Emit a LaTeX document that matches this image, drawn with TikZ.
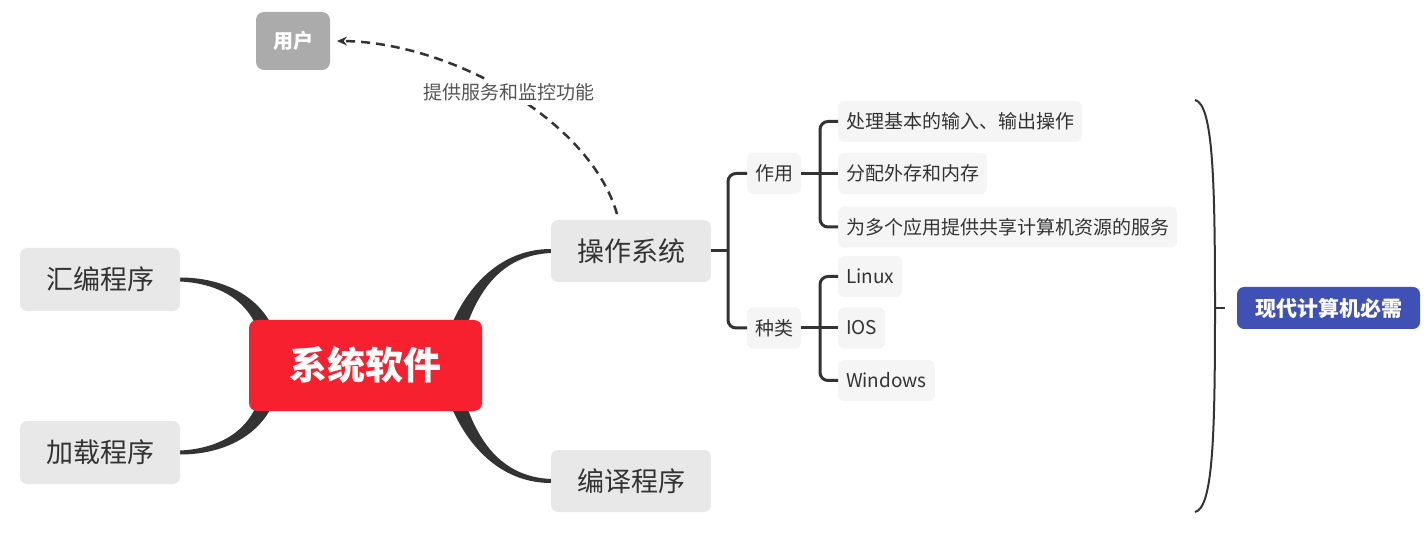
\documentclass[tikz,border=0pt]{standalone}
\usepackage{fontspec}
\setmainfont{Noto Sans CJK SC}
\usetikzlibrary{arrows.meta,calc,backgrounds}
\definecolor{ink}{HTML}{333333}
\definecolor{boxgray}{HTML}{E8E8E8}
\definecolor{leafgray}{HTML}{F5F5F5}
\definecolor{cenred}{HTML}{F7202F}
\definecolor{usergray}{HTML}{ABABAB}
\definecolor{needblue}{HTML}{3F51B5}
\definecolor{labelgray}{HTML}{555555}
\begin{document}
\begin{tikzpicture}[x=1pt,y=-1pt,
  every node/.style={inner sep=0pt, outer sep=0pt},
  mainbox/.style={fill=boxgray, rounded corners=7pt, minimum width=160pt, minimum height=62pt, text=ink, font=\fontsize{27}{31}\selectfont},
  subbox/.style={fill=leafgray, rounded corners=6pt, minimum width=54pt, minimum height=41pt, text=ink, font=\fontsize{19}{22}\selectfont},
  leafbox/.style={fill=leafgray, rounded corners=6pt, minimum height=41pt, inner xsep=8pt, text=ink, font=\fontsize{19}{22}\selectfont, anchor=west},
  conn/.style={draw=ink, line width=3pt, rounded corners=8pt},
  branch/.style={fill=ink},
  dasharrow/.style={draw=ink, line width=2.5pt, dash pattern=on 9pt off 6pt, -{Stealth[length=10pt,width=9pt]}},
  bracket/.style={draw=ink, line width=2pt},
]
\useasboundingbox (0,0) rectangle (1425,545);

% nodes
\node[fill=usergray, rounded corners=8pt, minimum width=74pt, minimum height=58pt, text=white, font=\fontsize{20}{23}\selectfont\bfseries] (user) at (293,41) {用户};
\node[fill=cenred, rounded corners=8pt, minimum width=233pt, minimum height=91pt, text=white, font=\fontsize{38}{44}\selectfont\bfseries] (cen) at (365.5,365.5) {系统软件};
\node[mainbox, minimum height=63pt] (asm) at (100,279.5) {汇编程序};
\node[mainbox, minimum height=63pt] (load) at (100,452.5) {加载程序};
\node[mainbox] (os) at (631,251) {操作系统};
\node[mainbox] (comp) at (631,481) {编译程序};
\node[subbox] (zy) at (774,173.5) {作用};
\node[subbox] (zl) at (774,328) {种类};
\node[leafbox] (l1) at (838,121.5) {处理基本的输入、输出操作};
\node[leafbox] (l2) at (838,173.5) {分配外存和内存};
\node[leafbox] (l3) at (838,227) {为多个应用提供共享计算机资源的服务};
\node[leafbox] (k1) at (838,276.5) {Linux};
\node[leafbox] (k2) at (838,328) {IOS};
\node[leafbox] (k3) at (838,380.5) {Windows};
\node[fill=needblue, rounded corners=7pt, minimum width=183pt, minimum height=42pt, text=white, font=\fontsize{21}{24}\selectfont\bfseries] (need) at (1328.5,308) {现代计算机必需};

% tapered branches behind nodes
\begin{scope}[on background layer]
\fill[branch] ($(asm.east)+(0,-2)$) .. controls (222,277.5) and (258,295) .. (273,328)
  -- (259,334) .. controls (250,303) and (222,283.5) .. ($(asm.east)+(0,2)$) -- cycle;
\fill[branch] ($(load.east)+(0,2)$) .. controls (222,454.5) and (258,437) .. (273,404)
  -- (259,398) .. controls (250,429) and (222,448.5) .. ($(load.east)+(0,-2)$) -- cycle;
\fill[branch] ($(os.west)+(0,-2)$) .. controls (505,249) and (470,280) .. (450,328)
  -- (464,334) .. controls (479,286) and (505,255) .. ($(os.west)+(0,2)$) -- cycle;
\fill[branch] ($(comp.west)+(0,2)$) .. controls (505,483) and (470,452) .. (450,404)
  -- (464,398) .. controls (479,446) and (505,477) .. ($(comp.west)+(0,-2)$) -- cycle;
\end{scope}

% os subtree connectors
\coordinate (j1) at (728,251);
\coordinate (j2) at (820,173.5);
\coordinate (j3) at (820,328);
\draw[conn] (os.east) -- (j1);
\draw[conn] (j1) |- (zy.west);
\draw[conn] (j1) |- (zl.west);
\draw[conn] (zy.east) -- (j2);
\draw[conn] (j2) |- (l1.west);
\draw[conn] (j2) -- (l2.west);
\draw[conn] (j2) |- (l3.west);
\draw[conn] (zl.east) -- (j3);
\draw[conn] (j3) |- (k1.west);
\draw[conn] (j3) -- (k2.west);
\draw[conn] (j3) |- (k3.west);

% dashed arrow to user
\draw[dasharrow] ($(os.north)+(-14,-6)$) .. controls (590,120) and (450,42) .. ($(user.east)+(7,0)$)
  node[pos=0.5, fill=white, inner xsep=3pt, inner ysep=4pt, text=labelgray, font=\fontsize{19}{22}\selectfont, solid] (lab) {提供服务和监控功能};

% bracket
\coordinate (btop) at (1195,100);
\coordinate (bmid) at (1215,308);
\coordinate (bbot) at (1195,512);
\draw[bracket] (btop) .. controls (1213,104) and (1215,180) .. (bmid) .. controls (1215,436) and (1213,508) .. (bbot);
\draw[bracket] (bmid) -- ($(need.west)+(-12,0)$);
\end{tikzpicture}
\end{document}
